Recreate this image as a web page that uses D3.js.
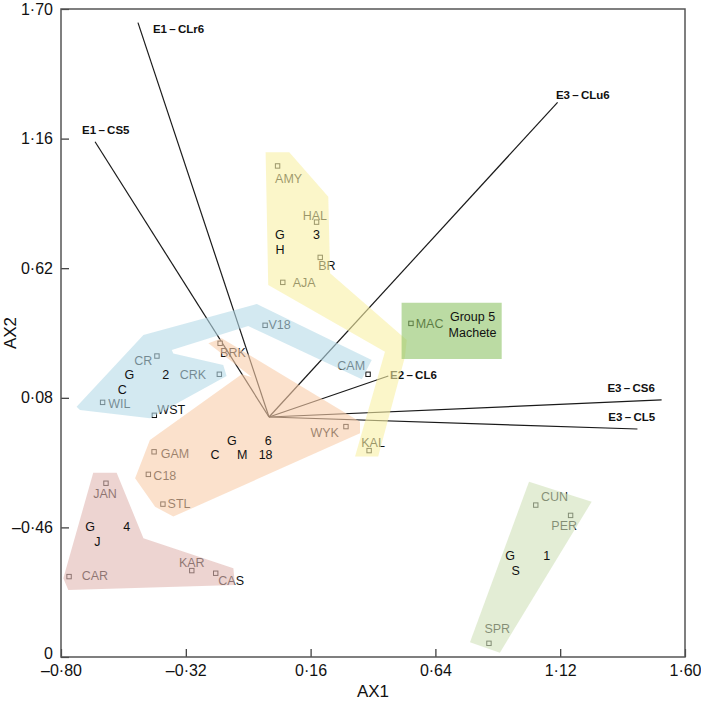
<!DOCTYPE html>
<html>
<head>
<meta charset="utf-8">
<script src="https://cdn.jsdelivr.net/npm/d3@7"></script>
<style>
  body { margin: 0; background: #fff; }
  svg { font-family: "Liberation Sans", Arial, Helvetica, sans-serif; }
  .axis text { font-size: 16px; fill: #111; }
  .axis line { stroke: #333; stroke-width: 1.2; }
</style>
</head>
<body>
<svg id="biplot" width="701" height="701"></svg>
<script>
/* assen */
var xTicks = [-0.80, -0.32, 0.16, 0.64, 1.12, 1.60];
var xTickLabels = ["\u20130\u00b780", "\u20130\u00b732", "0\u00b716", "0\u00b764", "1\u00b712", "1\u00b760"];
var yTicks = [-1.00, -0.46, 0.08, 0.62, 1.16, 1.70];
var yTickLabels = ["0", "\u20130\u00b746", "0\u00b708", "0\u00b762", "1\u00b716", "1\u00b770"];

/* sites (AX1, AX2) */
var siteNames = ["AMY", "HAL", "BR", "AJA", "V18", "MAC", "CAM", "WYK", "KAL", "CR", "CRK", "WIL",
                 "WST", "BRK", "GAM", "C18", "STL", "JAN", "CAR", "KAR", "CAS", "CUN", "PER", "SPR"];
var siteX = [0.033, 0.183, 0.197, 0.053, -0.015, 0.546, 0.381, 0.296, 0.385, -0.431, -0.191, -0.640,
             -0.441, -0.188, -0.442, -0.464, -0.408, -0.627, -0.769, -0.297, -0.205, 1.026, 1.160, 0.846];
var siteY = [1.046, 0.812, 0.665, 0.561, 0.382, 0.390, 0.178, -0.040, -0.140, 0.254, 0.178, 0.061,
             0.007, 0.307, -0.145, -0.239, -0.363, -0.276, -0.665, -0.640, -0.651, -0.367, -0.410, -0.943];

/* vectoren vanuit de oorsprong */
var vecNames = ["E1\u2009\u2013\u2009CLr6", "E1\u2009\u2013\u2009CS5", "E3\u2009\u2013\u2009CLu6",
                "E2\u2009\u2013\u2009CL6", "E3\u2009\u2013\u2009CS6", "E3\u2009\u2013\u2009CL5"];
var vecX = [-0.504, -0.669, 1.110, 0.459, 1.510, 1.417];
var vecY = [1.643, 1.147, 1.311, 0.171, 0.071, -0.050];

/* groepen: omhullende polygonen */
var group1Hull = [[1.000, -0.270], [1.241, -0.353], [0.888, -0.982], [0.773, -0.939]];
var group2Hull = [[-0.740, 0.043], [-0.483, 0.342], [-0.047, 0.471], [0.395, 0.238], [0.357, 0.157],
                  [-0.080, 0.379], [-0.374, 0.279], [-0.368, 0.265], [-0.176, 0.217], [-0.163, 0.171],
                  [-0.458, -0.005], [-0.727, 0.029]];
var group3Hull = [[-0.013, 1.103], [0.078, 1.103], [0.228, 0.918], [0.235, 0.599], [0.530, 0.321],
                  [0.523, 0.251], [0.420, -0.165], [0.331, -0.165], [0.446, 0.272], [-0.003, 0.550]];
var group4Hull = [[-0.676, -0.232], [-0.586, -0.232], [-0.483, -0.505], [-0.137, -0.630],
                  [-0.131, -0.700], [-0.772, -0.721], [-0.791, -0.672]];
var group5Hull = [[0.510, 0.476], [0.895, 0.476], [0.895, 0.242], [0.510, 0.242]];
var group6Hull = [[-0.233, 0.307], [-0.182, 0.328], [0.350, -0.020], [0.350, -0.068], [-0.368, -0.415],
                  [-0.438, -0.374], [-0.515, -0.255], [-0.458, -0.096], [-0.105, 0.178], [-0.067, 0.167]];

/* groepsletters */
var groupText = ["G", "1", "S", "G", "2", "C", "G", "3", "H", "G", "4", "J",
                 "Group 5", "Machete", "G", "6", "C", "M", "18"];
var groupTextX = [0.927, 1.068, 0.949, -0.537, -0.397, -0.564, 0.042, 0.183, 0.042, -0.688, -0.547, -0.660,
                  0.783, 0.783, -0.143, -0.003, -0.208, -0.103, -0.013];
var groupTextY = [-0.578, -0.578, -0.640, 0.176, 0.176, 0.115, 0.761, 0.761, 0.699, -0.457, -0.457, -0.520,
                  0.418, 0.351, -0.096, -0.096, -0.155, -0.155, -0.155];

var hulls = [
  {pts: group1Hull, fill: "#d0e1b9"},
  {pts: group2Hull, fill: "#b6dae8"},
  {pts: group3Hull, fill: "#f8f0a5"},
  {pts: group4Hull, fill: "#e1b7b2"},
  {pts: group5Hull, fill: "#8ec366"},
  {pts: group6Hull, fill: "#f8cdaa"}
];

/* plaatsing van de labels (anchor, dx, dy in px) */
var siteLabelPos = {
  AMY: ["start", -2.5, 13], HAL: ["middle", -1.7, -7], BR: ["start", -2, 8.4], AJA: ["start", 10, 0],
  V18: ["start", 3.3, -1.3], MAC: ["start", 4.7, 0], CAM: ["end", -3, -8.3], WYK: ["end", -7, 5.6],
  KAL: ["middle", 4, -8.4], CR: ["end", -4.7, 4], CRK: ["end", -13.3, 0], WIL: ["start", 5.6, 1],
  WST: ["start", 3, -5.6], BRK: ["start", 0, 9], GAM: ["start", 6.7, 1.6], C18: ["start", 5, 1],
  STL: ["start", 4.7, -0.7], JAN: ["middle", -1, 10], CAR: ["start", 12.7, -0.7], KAR: ["middle", 0, -8],
  CAS: ["start", 2.6, 7.4], CUN: ["start", 5.3, -8.3], PER: ["middle", -6.4, 9.7], SPR: ["middle", 8.3, -15]
};
var vecLabelPos = [["start", 15, 6.3], ["start", -13, -11.7], ["start", -1.7, -7.3],
                   ["start", 1.7, -1], ["end", -6.7, -12], ["end", 17.7, -12]];

var svg = d3.select("#biplot"),
    margin = {top: 9, right: 16, bottom: 44, left: 61},
    width = +svg.attr("width") - margin.left - margin.right,
    height = +svg.attr("height") - margin.top - margin.bottom;

var x = d3.scaleLinear().domain([-0.80, 1.60]).range([0, width]),
    y = d3.scaleLinear().domain([-1.00, 1.70]).range([height, 0]);

var g = svg.append("g")
    .attr("transform", "translate(" + margin.left + "," + margin.top + ")");

var sites = siteNames.map(function(n, i) { return {name: n, x: siteX[i], y: siteY[i]}; });
var vectors = vecNames.map(function(n, i) { return {name: n, x: vecX[i], y: vecY[i], pos: vecLabelPos[i]}; });

/* vectoren */
g.selectAll(".vec")
  .data(vectors)
  .enter().append("line")
    .attr("class", "vec")
    .attr("x1", x(0)).attr("y1", y(0))
    .attr("x2", function(d) { return x(d.x); })
    .attr("y2", function(d) { return y(d.y); })
    .attr("stroke", "#1a1a1a")
    .attr("stroke-width", 1.2);

/* sites */
g.selectAll(".site")
  .data(sites)
  .enter().append("rect")
    .attr("class", "site")
    .attr("x", function(d) { return x(d.x) - 2.2; })
    .attr("y", function(d) { return y(d.y) - 2.2; })
    .attr("width", 4.4).attr("height", 4.4)
    .attr("fill", "#fff")
    .attr("stroke", "#111")
    .attr("stroke-width", 1);

g.selectAll(".siteLabel")
  .data(sites)
  .enter().append("text")
    .attr("class", "siteLabel")
    .attr("x", function(d) { return x(d.x) + siteLabelPos[d.name][1]; })
    .attr("y", function(d) { return y(d.y) + siteLabelPos[d.name][2]; })
    .attr("dy", "0.36em")
    .attr("text-anchor", function(d) { return siteLabelPos[d.name][0]; })
    .style("font-size", "12.5px")
    .attr("fill", "#111")
    .text(function(d) { return d.name; });

g.selectAll(".vecLabel")
  .data(vectors)
  .enter().append("text")
    .attr("class", "vecLabel")
    .attr("x", function(d) { return x(d.x) + d.pos[1]; })
    .attr("y", function(d) { return y(d.y) + d.pos[2]; })
    .attr("dy", "0.36em")
    .attr("text-anchor", function(d) { return d.pos[0]; })
    .style("font-size", "11.5px")
    .style("font-weight", "bold")
    .attr("fill", "#111")
    .text(function(d) { return d.name; });

/* polygonen halfdoorzichtig over de rest */
var line = d3.line().x(function(p) { return x(p[0]); }).y(function(p) { return y(p[1]); });
g.selectAll(".hull")
  .data(hulls)
  .enter().append("path")
    .attr("class", "hull")
    .attr("d", function(d) { return line(d.pts) + "Z"; })
    .attr("fill", function(d) { return d.fill; })
    .attr("fill-opacity", 0.6)
    .attr("stroke", "none");

/* groepsletters erboven */
g.selectAll(".groupText")
  .data(groupText)
  .enter().append("text")
    .attr("class", "groupText")
    .attr("x", function(d, i) { return x(groupTextX[i]); })
    .attr("y", function(d, i) { return y(groupTextY[i]); })
    .attr("dy", "0.36em")
    .attr("text-anchor", "middle")
    .style("font-size", "12.5px")
    .attr("fill", "#111")
    .text(function(d) { return d; });

/* x as */
var xAxis = g.append("g")
    .attr("class", "axis")
    .attr("transform", "translate(0," + height + ")")
    .call(d3.axisBottom(x).tickValues(xTicks)
      .tickFormat(function(d, i) { return xTickLabels[i]; })
      .tickSizeInner(-8).tickSizeOuter(0).tickPadding(8));
xAxis.select(".domain").remove();
xAxis.selectAll("text").attr("y", 8);

/* y as */
var yAxis = g.append("g")
    .attr("class", "axis")
    .call(d3.axisLeft(y).tickValues(yTicks)
      .tickFormat(function(d, i) { return yTickLabels[i]; })
      .tickSizeInner(-8).tickSizeOuter(0).tickPadding(8));
yAxis.select(".domain").remove();
yAxis.selectAll("text").attr("x", -8);
// onderste "0" iets omhoog zodat hij niet in -0.80 loopt
yAxis.selectAll("text").filter(function(d) { return d === -1.00; }).attr("dy", "0.1em");

/* kader */
g.append("rect")
    .attr("width", width).attr("height", height)
    .attr("fill", "none")
    .attr("stroke", "#555")
    .attr("stroke-width", 1.5);

/* astitels */
g.append("text")
    .attr("x", width / 2)
    .attr("y", height + 34)
    .attr("dy", "0.36em")
    .attr("text-anchor", "middle")
    .style("font-size", "17px")
    .attr("fill", "#111")
    .text("AX1");

g.append("text")
    .attr("transform", "rotate(-90)")
    .attr("x", -height / 2)
    .attr("y", -51)
    .attr("dy", "0.36em")
    .attr("text-anchor", "middle")
    .style("font-size", "17px")
    .attr("fill", "#111")
    .text("AX2");
</script>
</body>
</html>
